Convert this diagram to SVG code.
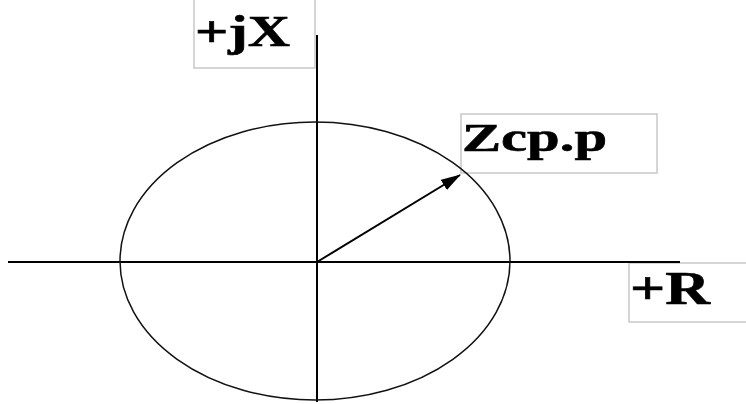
<svg xmlns="http://www.w3.org/2000/svg" width="746" height="404" viewBox="0 0 746 404">
<defs>
<style>
.ax{stroke:#000;stroke-width:2;fill:none}
.box{fill:#fff;stroke:#c8c8c8;stroke-width:1.5}
.lbl{font-family:"Liberation Serif","Times New Roman",serif;font-weight:bold;fill:#000;stroke:#000;stroke-width:0.6}
</style>
<marker id="ah2" viewBox="0 0 20 12" refX="19" refY="6" markerWidth="20" markerHeight="12" markerUnits="userSpaceOnUse" orient="auto">
<path d="M0,0 L20,6 L0,12 z" fill="#000"/>
</marker>
</defs>
<rect width="746" height="404" fill="#fff"/>
<g id="label-jx">
<rect class="box" x="194" y="-2" width="121" height="70"/>
<text class="lbl" x="195" y="46" font-size="44" textLength="95" lengthAdjust="spacingAndGlyphs">+jX</text>
</g>
<g id="label-zcp">
<rect class="box" x="461" y="114" width="196" height="59"/>
<text class="lbl" x="462" y="151" font-size="40" textLength="145" lengthAdjust="spacingAndGlyphs">Zcp.p</text>
</g>
<g id="label-r">
<rect class="box" x="629" y="263" width="130" height="59"/>
<text class="lbl" x="630" y="304" font-size="46" textLength="80" lengthAdjust="spacingAndGlyphs">+R</text>
</g>
<g id="connectors">
<line class="ax" x1="8" y1="262" x2="680" y2="262"/>
<line class="ax" x1="317" y1="35" x2="317" y2="402"/>
<ellipse cx="315" cy="261" rx="195" ry="139" fill="none" stroke="#111" stroke-width="1.5"/>
<line class="ax" x1="317" y1="262" x2="460" y2="175" marker-end="url(#ah2)"/>
</g>
</svg>
